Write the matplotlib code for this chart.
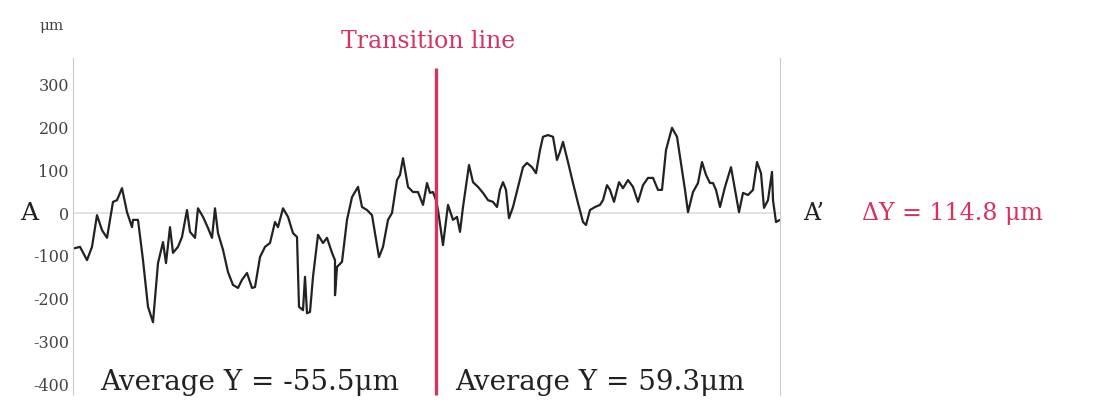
import matplotlib
matplotlib.use("Agg")
import matplotlib.pyplot as plt

plt.rcParams['font.family'] = ['DejaVu Serif']

# profile along A-A' (position in arbitrary units, height in um)
pos_left = [2, 7, 14, 19, 24, 29, 34, 40, 44, 49, 54, 59, 60, 65, 70, 75, 80, 85, 90, 93, 97,
            100, 105, 109, 114, 117, 122, 125, 130, 135, 139, 142, 145, 150, 155, 160, 165, 169,
            174, 179, 182, 187, 192, 197, 202, 205, 210, 215, 220, 224, 226, 230, 232, 234, 237,
            240, 245, 250, 254, 259, 262, 262, 264, 269, 274, 279, 285, 289, 294, 299, 302, 306,
            310, 315, 319, 324, 327, 330, 335, 340, 345, 350, 354, 357, 360]
val_left = [-82, -79, -110, -79, -5, -40, -58, 26, 30, 58, 2, -33, -16, -16, -110, -219, -255,
            -117, -68, -117, -33, -93, -79, -56, 7, -44, -58, 11, -9, -35, -58, 11, -47, -86,
            -138, -168, -175, -156, -140, -175, -173, -103, -79, -70, -21, -33, 11, -9, -47, -56,
            -219, -227, -149, -234, -231, -149, -51, -70, -58, -93, -110, -192, -126, -114, -16,
            37, 61, 14, 7, -5, -47, -103, -79, -16, 0, 77, 89, 128, 61, 49, 49, 19, 70, 47, 49]
pos_right = [363, 365, 370, 375, 380, 384, 387, 390, 396, 400, 405, 410, 415, 420, 424, 427,
             430, 433, 436, 440, 445, 450, 454, 459, 463, 467, 470, 475, 480, 484, 487, 490,
             495, 500, 505, 510, 513, 517, 522, 527, 530, 534, 537, 541, 546, 550, 555, 560,
             565, 570, 575, 580, 585, 589, 593, 599, 604, 609, 612, 615, 620, 625, 629, 633,
             637, 640, 643, 647, 652, 658, 662, 666, 670, 675, 680, 684, 688, 691, 695, 699,
             700, 703, 707]
val_right = [30, 7, -75, 19, -16, -9, -44, 14, 112, 72, 61, 47, 30, 26, 14, 54, 72, 54, -12,
             14, 61, 107, 117, 107, 93, 147, 178, 182, 178, 124, 143, 166, 119, 70, 23, -21,
             -28, 7, 14, 19, 30, 65, 54, 26, 72, 58, 77, 61, 26, 65, 82, 82, 54, 54, 147, 199,
             178, 100, 54, 2, 49, 70, 119, 89, 70, 70, 54, 14, 61, 107, 54, 2, 47, 42, 54, 119,
             93, 12, 30, 96, 30, -21, -16]
transition_pos = 363
yticks = [300, 200, 100, 0, -100, -200, -300, -400]
avg_left = -55.5
avg_right = 59.3
delta_y = 114.8

W, H = 1099, 417
fig = plt.figure(figsize=(W / 100, H / 100), dpi=100)
ax = fig.add_axes([73 / W, (H - 395) / H, (780 - 73) / W, (395 - 58) / H])

ax.plot(pos_left + pos_right, val_left + val_right, color='#222222', lw=1.6)
ax.axhline(0, color='#dddddd', lw=1.2, zorder=0)
ax.vlines(transition_pos, -425, 339, color='#d6325d', lw=2.4, clip_on=False, zorder=3)

ax.set_xlim(0, 707)
ax.set_ylim(-425, 362)
ax.set_yticks(yticks)
ax.set_yticklabels([str(t) for t in yticks], fontsize=11.5, color='#444444')
ax.tick_params(axis='y', length=0, pad=3)
ax.set_xticks([])
for s in ['top', 'bottom']:
    ax.spines[s].set_visible(False)
ax.spines['left'].set_color('#cccccc')
ax.spines['right'].set_color('#cccccc')


def ftext(x, y, s, **kw):
    fig.text(x / W, 1 - y / H, s, **kw)


ftext(52, 26, 'μm', fontsize=11, color='#444444', ha='center', va='center')
ftext(29, 213, 'A', fontsize=18, ha='center', va='center', color='#222222')
ftext(814, 213, 'A’', fontsize=17, ha='center', va='center', color='#222222')
ftext(428, 42, 'Transition line', fontsize=17, ha='center', va='center', color='#d6325d')
ftext(862, 213, 'ΔY = %.1f μm' % delta_y, fontsize=17, ha='left', va='center', color='#d6325d')
ftext(250, 383, 'Average Y = %.1fμm' % avg_left, fontsize=20, ha='center', va='center',
      color='#222222')
ftext(600, 383, 'Average Y = %.1fμm' % avg_right, fontsize=20, ha='center', va='center',
      color='#222222')

fig.savefig('out.png', dpi=100)
